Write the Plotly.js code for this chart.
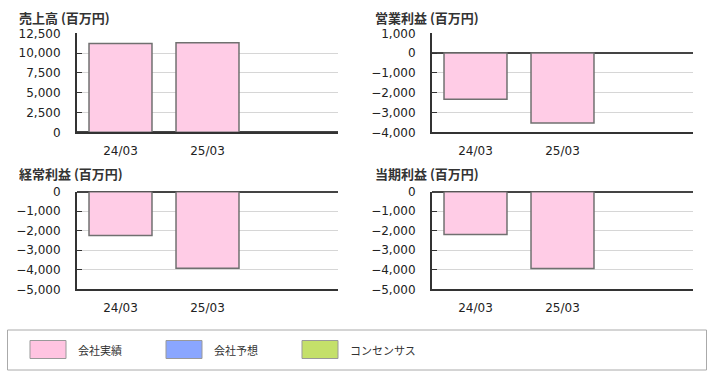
<!DOCTYPE html>
<html>
<head>
<meta charset="utf-8">
<script src="https://cdn.plot.ly/plotly-3.0.1.min.js"></script>
<style>html,body{margin:0;padding:0;background:#fff;}#chart{width:709px;height:377px;}</style>
</head>
<body>
<div id="chart"></div>
<script>
// ---- data ----
var categories = ['24/03', '25/03'];
var panelTitles = ['売上高 (百万円)', '営業利益 (百万円)', '経常利益 (百万円)', '当期利益 (百万円)'];
var salesValues = [11200, 11300];
var operatingValues = [-2330, -3530];
var ordinaryValues = [-2250, -3920];
var netValues = [-2190, -3930];
var legendNames = ['会社実績', '会社予想', 'コンセンサス'];
var legendColors = ['#ffc4e1', '#8aa6ff', '#c4e06a'];

var W = 709, H = 377;
function px(x) { return x / W; }
function py(y) { return 1 - y / H; }

var series = [salesValues, operatingValues, ordinaryValues, netValues];
var ranges = [[0, 12500], [-4000, 1000], [-5000, 0], [-5000, 0]];
var dticks = [2500, 1000, 1000, 1000];
var xDomains = [[77, 338], [432, 693], [77, 338], [432, 693]];
var yDomains = [[33.3, 132.3], [33.3, 132.3], [191.7, 289.3], [191.7, 289.3]];
var titlePos = [[18, 17], [374, 17], [18, 173.5], [374, 173.5]];

var tickFont = {family: 'DejaVu Sans, Verdana, sans-serif', size: 12, color: '#222'};
var traces = [];
var layout = {
  width: W, height: H,
  margin: {l: 0, r: 0, t: 0, b: 0},
  paper_bgcolor: '#fff', plot_bgcolor: '#fff',
  showlegend: false,
  bargap: 0.276,
  annotations: [], shapes: []
};

for (var i = 0; i < 4; i++) {
  var n = i === 0 ? '' : String(i + 1);
  traces.push({
    type: 'bar', x: categories, y: series[i],
    xaxis: 'x' + n, yaxis: 'y' + n,
    marker: {color: '#ffcce6', line: {color: '#707070', width: 1.5}},
    hoverinfo: 'x+y'
  });
  layout['xaxis' + n] = {
    domain: [px(xDomains[i][0]), px(xDomains[i][1])],
    anchor: 'y' + n,
    type: 'category', range: [-0.5, 2.5],
    showline: true, linecolor: '#333', linewidth: 2,
    showgrid: false, ticks: '', tickfont: tickFont,
    ticklabelstandoff: 6, fixedrange: true
  };
  layout['yaxis' + n] = {
    domain: [py(yDomains[i][1]), py(yDomains[i][0])],
    anchor: 'x' + n,
    range: ranges[i], dtick: dticks[i], tick0: 0,
    tickformat: ',d',
    showline: true, linecolor: '#333', linewidth: 2,
    showgrid: true, gridcolor: '#d6d6d6', gridwidth: 1,
    zeroline: true, zerolinecolor: '#444', zerolinewidth: 2,
    ticks: 'inside', ticklen: 5, tickcolor: '#333', tickwidth: 1,
    tickfont: tickFont, ticklabelstandoff: 12, fixedrange: true
  };
  layout.annotations.push({
    text: '<b>' + panelTitles[i] + '</b>',
    xref: 'paper', yref: 'paper',
    x: px(titlePos[i][0]), y: py(titlePos[i][1]),
    xanchor: 'left', yanchor: 'middle', showarrow: false,
    height: 15, borderpad: 0,
    font: {family: 'Noto Sans CJK JP, sans-serif', size: 13, color: '#333'}
  });
}

// legend box
layout.shapes.push({type: 'rect', xref: 'paper', yref: 'paper',
  x0: px(7.5), x1: px(706.5), y0: py(370), y1: py(330),
  line: {color: '#aaa', width: 1}, fillcolor: 'rgba(0,0,0,0)'});
var swX = [30, 166, 302];
for (var k = 0; k < legendNames.length; k++) {
  layout.shapes.push({type: 'rect', xref: 'paper', yref: 'paper',
    x0: px(swX[k]), x1: px(swX[k] + 36), y0: py(358.5), y1: py(340.5),
    line: {color: '#999', width: 1}, fillcolor: legendColors[k]});
  layout.annotations.push({
    text: legendNames[k], xref: 'paper', yref: 'paper',
    x: px(swX[k] + 46), y: py(349.5), xanchor: 'left', yanchor: 'middle',
    showarrow: false,
    font: {family: 'Noto Sans CJK JP, sans-serif', size: 11, color: '#333'}
  });
}

Plotly.newPlot('chart', traces, layout, {displayModeBar: false, staticPlot: true});
</script>
</body>
</html>
